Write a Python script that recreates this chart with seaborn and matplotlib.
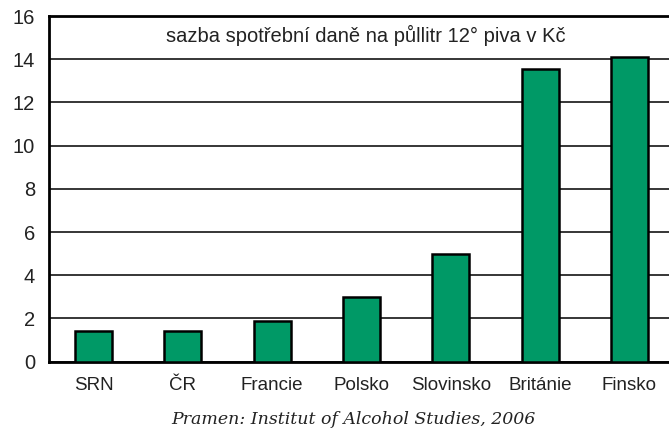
import numpy as np
import pandas as pd
import matplotlib
matplotlib.use("Agg")
import matplotlib.pyplot as plt
import seaborn as sns

# data
zeme = ["SRN", "ČR", "Francie", "Polsko", "Slovinsko", "Británie", "Finsko"]
dan = [1.4, 1.4, 1.88, 2.99, 5.0, 13.55, 14.08]

df = pd.DataFrame({"zeme": zeme, "dan": dan})

sns.set_style("white")
plt.rcParams["font.family"] = ["Liberation Sans", "DejaVu Sans"]

fig = plt.figure(figsize=(6.69, 4.29), dpi=100)
ax = fig.add_axes([0.0732, 0.1569, 0.9343, 0.8058])

sns.barplot(data=df, x="zeme", y="dan", color="#009966", saturation=1,
            width=0.415, edgecolor="black", linewidth=1.8, ax=ax, zorder=3)

ax.set_xlim(-0.5, 6.5)
ax.set_ylim(0, 16)
ax.set_yticks(np.arange(0, 17, 2))
ax.yaxis.grid(True, color="black", linewidth=1.1, zorder=0)
ax.set_axisbelow(True)

ax.spines["right"].set_visible(False)
for s in ["left", "bottom", "top"]:
    ax.spines[s].set_color("black")
    ax.spines[s].set_linewidth(2)

# ticks mezi kategoriemi
ax.set_xticks(np.arange(7))
ax.set_xticks(np.arange(-0.5, 7, 1), minor=True)
ax.tick_params(axis="x", which="major", length=0, labelsize=13.5, pad=11, colors="#222222")
ax.tick_params(axis="x", which="minor", length=5, width=1.8, direction="out", color="black")
ax.tick_params(axis="y", length=5, width=1.8, direction="out", color="black",
               labelsize=14.5, pad=5, labelcolor="#222222")
ax.set_xlabel("")
ax.set_ylabel("")

ax.text(3.05, 15.1, "sazba spotřební daně na půllitr 12° piva v Kč",
        ha="center", va="center", fontsize=14.5, color="#222222")

fig.text(0.528, 0.023, "Pramen: Institut of Alcohol Studies, 2006",
         ha="center", va="center", fontsize=12.5, style="italic",
         family=["DejaVu Serif"], color="#222222")

fig.savefig("out.png", dpi=100)
